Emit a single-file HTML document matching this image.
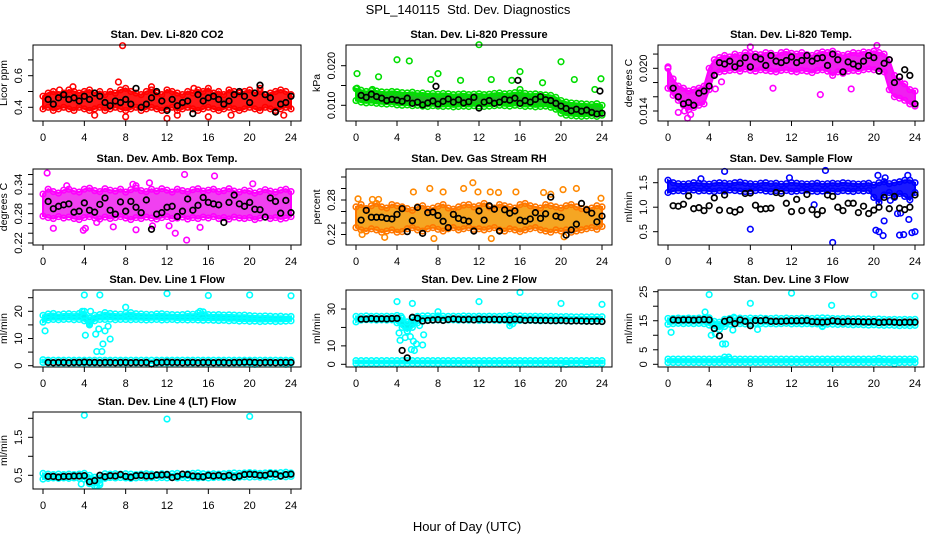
<!DOCTYPE html>
<html><head><meta charset="utf-8"><style>
html,body{margin:0;padding:0;background:#fff;}
svg{display:block;font-family:"Liberation Sans",sans-serif;}
</style></head><body>
<svg id="chart" width="936" height="540" viewBox="0 0 936 540" xmlns="http://www.w3.org/2000/svg">
<text x="468" y="14" font-size="13" text-anchor="middle" style="white-space:pre">SPL_140115  Std. Dev. Diagnostics</text>
<text x="467" y="531" font-size="13" text-anchor="middle">Hour of Day (UTC)</text>
</svg>
<script>
// ---------- data (hour step 0.5 for bands, black starts at 0.5) ----------
const xTicks = [0,4,8,12,16,20,24];
// P1 CO2
const p1Hi = [0.47,0.49,0.50,0.48,0.49,0.51,0.50,0.49,0.50,0.51,0.49,0.50,0.48,0.50,0.49,0.51,0.52,0.50,0.49,0.48,0.50,0.51,0.49,0.48,0.51,0.50,0.49,0.48,0.50,0.49,0.51,0.50,0.52,0.49,0.50,0.48,0.51,0.50,0.49,0.50,0.51,0.49,0.50,0.48,0.49,0.50,0.51,0.50,0.48];
const p1Lo = [0.39,0.40,0.38,0.39,0.40,0.39,0.38,0.40,0.39,0.38,0.39,0.40,0.38,0.39,0.40,0.39,0.38,0.39,0.40,0.38,0.39,0.40,0.39,0.38,0.39,0.40,0.38,0.39,0.40,0.39,0.38,0.39,0.40,0.39,0.38,0.39,0.40,0.39,0.38,0.39,0.40,0.39,0.38,0.40,0.39,0.38,0.39,0.40,0.39];
const p1Black = [0.45,0.42,0.46,0.48,0.45,0.46,0.44,0.47,0.45,0.49,0.47,0.43,0.41,0.44,0.43,0.45,0.42,0.52,0.40,0.42,0.46,0.50,0.44,0.38,0.45,0.41,0.43,0.44,0.36,0.48,0.44,0.46,0.47,0.45,0.42,0.44,0.48,0.50,0.47,0.43,0.49,0.54,0.48,0.46,0.37,0.42,0.43,0.47];
const p1Out = [[7.7,0.79],[7.3,0.56],[2.9,0.53],[10.5,0.53],[18.2,0.35],[12,0.33],[16,0.34],[5,0.35],[14.6,0.52],[21,0.52],[1.6,0.51],[23.3,0.35],[8,0.34],[13,0.35]];
// P2 Pressure
const p2Hi = [0.0142,0.0138,0.0135,0.0137,0.0136,0.0134,0.0133,0.0135,0.0134,0.0132,0.0131,0.0133,0.0130,0.0131,0.0129,0.0130,0.0128,0.0130,0.0129,0.0127,0.0128,0.0129,0.0127,0.0128,0.0129,0.0127,0.0128,0.0130,0.0131,0.0129,0.0130,0.0132,0.0131,0.0130,0.0128,0.0129,0.0127,0.0126,0.0125,0.0120,0.0112,0.0108,0.0106,0.0105,0.0104,0.0103,0.0102,0.0104,0.0100];
const p2Lo = [0.0112,0.0108,0.0106,0.0107,0.0105,0.0104,0.0103,0.0104,0.0101,0.0100,0.0101,0.0099,0.0100,0.0098,0.0097,0.0099,0.0098,0.0097,0.0098,0.0096,0.0097,0.0098,0.0097,0.0099,0.0098,0.0097,0.0098,0.0099,0.0100,0.0099,0.0098,0.0100,0.0099,0.0097,0.0098,0.0096,0.0097,0.0098,0.0095,0.0090,0.0080,0.0075,0.0074,0.0073,0.0072,0.0073,0.0074,0.0072,0.0075];
const p2Black = [0.0125,0.0120,0.0128,0.0122,0.0118,0.0112,0.0115,0.0113,0.0110,0.0118,0.0105,0.0108,0.0101,0.0106,0.0111,0.0103,0.0110,0.0116,0.0108,0.0114,0.0106,0.0109,0.0120,0.0093,0.0108,0.0112,0.0105,0.0108,0.0115,0.0113,0.0118,0.0105,0.0112,0.0108,0.0115,0.0122,0.0114,0.0112,0.0105,0.0098,0.0092,0.0086,0.0090,0.0085,0.0088,0.0082,0.0078,0.0080];
const p2Out = [[0.1,0.0180],[4,0.0215],[5.2,0.0212],[2.2,0.0172],[7.3,0.0165],[8,0.0180],[10.2,0.0163],[12,0.0253],[13.2,0.0165],[15.2,0.0163],[16,0.0185],[18.2,0.0157],[20,0.0210],[21.3,0.0165],[23.9,0.0167],[23.3,0.0140],[16,0.0140],[0.1,0.0143],[1.6,0.0140]];
const p2BlackOut = [[7.8,0.0148],[15.8,0.0163],[23.8,0.0136]];
// P3 Li-820 Temp
const p3Hi = [0.0200,0.0185,0.0175,0.0172,0.0168,0.0170,0.0172,0.0175,0.0200,0.0212,0.0215,0.0218,0.0216,0.0220,0.0218,0.0222,0.0221,0.0220,0.0219,0.0222,0.0221,0.0218,0.0222,0.0223,0.0221,0.0220,0.0222,0.0219,0.0218,0.0221,0.0223,0.0222,0.0224,0.0220,0.0218,0.0220,0.0222,0.0221,0.0223,0.0222,0.0224,0.0222,0.0220,0.0212,0.0190,0.0182,0.0178,0.0170,0.0168];
const p3Lo = [0.0172,0.0162,0.0155,0.0148,0.0142,0.0145,0.0148,0.0150,0.0170,0.0192,0.0195,0.0196,0.0197,0.0198,0.0196,0.0199,0.0197,0.0196,0.0198,0.0197,0.0196,0.0195,0.0197,0.0198,0.0196,0.0195,0.0197,0.0196,0.0194,0.0197,0.0198,0.0196,0.0190,0.0195,0.0193,0.0196,0.0197,0.0196,0.0198,0.0199,0.0198,0.0196,0.0195,0.0170,0.0160,0.0158,0.0155,0.0150,0.0147];
const p3Black = [0.0172,0.0160,0.0150,0.0152,0.0148,0.0165,0.0168,0.0175,0.0190,0.0208,0.0206,0.0210,0.0202,0.0207,0.0215,0.0202,0.0216,0.0213,0.0204,0.0218,0.0210,0.0208,0.0211,0.0216,0.0208,0.0211,0.0218,0.0210,0.0214,0.0215,0.0204,0.0220,0.0212,0.0195,0.0209,0.0206,0.0203,0.0210,0.0218,0.0215,0.0196,0.0207,0.0212,0.0180,0.0188,0.0198,0.0190,0.0150];
const p3Out = [[0,0.0202],[1.6,0.0140],[1.9,0.0130],[2.2,0.0135],[4.6,0.0171],[5.2,0.0181],[8,0.0230],[14.8,0.0163],[10.2,0.0172],[17.8,0.0171],[20.3,0.0232],[23.5,0.0150],[1,0.0138]];
// P4 Amb Box Temp
const p4Hi = [0.320,0.330,0.325,0.322,0.328,0.330,0.326,0.324,0.330,0.332,0.327,0.325,0.331,0.328,0.326,0.330,0.324,0.329,0.332,0.327,0.325,0.330,0.326,0.331,0.328,0.324,0.330,0.327,0.325,0.329,0.331,0.326,0.328,0.330,0.325,0.327,0.331,0.326,0.324,0.328,0.326,0.322,0.325,0.329,0.326,0.324,0.328,0.330,0.325];
const p4Lo = [0.275,0.272,0.270,0.274,0.271,0.273,0.270,0.268,0.272,0.274,0.271,0.269,0.273,0.270,0.272,0.274,0.271,0.268,0.272,0.270,0.273,0.271,0.269,0.272,0.274,0.270,0.271,0.273,0.269,0.272,0.270,0.273,0.271,0.274,0.270,0.272,0.269,0.273,0.271,0.270,0.272,0.268,0.271,0.273,0.270,0.272,0.269,0.271,0.274];
const p4Black = [0.305,0.290,0.295,0.298,0.300,0.283,0.285,0.302,0.287,0.283,0.299,0.312,0.287,0.279,0.304,0.285,0.305,0.293,0.282,0.308,0.248,0.279,0.282,0.293,0.295,0.274,0.285,0.310,0.287,0.297,0.313,0.303,0.300,0.298,0.262,0.303,0.318,0.300,0.295,0.303,0.289,0.288,0.273,0.312,0.305,0.281,0.307,0.282];
const p4Out = [[0.4,0.363],[1,0.250],[3.9,0.246],[4.1,0.250],[5.2,0.262],[6.8,0.253],[9,0.247],[10.6,0.255],[12.2,0.255],[12.8,0.240],[13.7,0.360],[13.9,0.226],[15.2,0.252],[16.6,0.357],[2.3,0.337],[9,0.337],[10.3,0.343],[20.3,0.341],[8.7,0.340]];
// P5 Gas Stream RH
const p5Hi = [0.268,0.272,0.265,0.270,0.274,0.268,0.266,0.272,0.270,0.268,0.265,0.262,0.268,0.270,0.264,0.266,0.269,0.272,0.266,0.264,0.268,0.271,0.272,0.268,0.270,0.274,0.268,0.266,0.272,0.270,0.268,0.266,0.272,0.274,0.270,0.268,0.266,0.272,0.270,0.268,0.266,0.270,0.272,0.268,0.265,0.264,0.266,0.270,0.268];
const p5Lo = [0.232,0.228,0.226,0.230,0.228,0.224,0.226,0.228,0.224,0.225,0.230,0.232,0.228,0.226,0.230,0.232,0.229,0.226,0.230,0.232,0.228,0.230,0.232,0.229,0.230,0.228,0.230,0.232,0.228,0.226,0.230,0.228,0.225,0.228,0.230,0.232,0.228,0.226,0.224,0.228,0.226,0.228,0.224,0.226,0.228,0.230,0.232,0.229,0.234];
const p5Black = [0.245,0.262,0.250,0.250,0.250,0.248,0.247,0.255,0.265,0.225,0.244,0.267,0.222,0.258,0.259,0.253,0.243,0.232,0.255,0.248,0.245,0.243,0.226,0.261,0.245,0.270,0.264,0.226,0.263,0.257,0.261,0.245,0.243,0.247,0.258,0.248,0.256,0.285,0.252,0.250,0.219,0.228,0.238,0.274,0.263,0.257,0.242,0.252];
const p5Out = [[0.2,0.282],[0.6,0.220],[1.6,0.281],[2.2,0.281],[2.8,0.215],[5.6,0.294],[7.2,0.300],[7.6,0.213],[8.5,0.294],[10.5,0.300],[11.4,0.310],[11.9,0.294],[13.1,0.294],[13.2,0.213],[13.9,0.293],[15.6,0.294],[18.3,0.293],[19,0.290],[21.5,0.300],[20.2,0.298],[23.9,0.283],[20.3,0.216]];
// P6 Sample Flow
const p6Hi = [1.55,1.50,1.48,1.47,1.48,1.50,1.49,1.48,1.47,1.49,1.50,1.49,1.48,1.50,1.51,1.49,1.48,1.47,1.49,1.50,1.48,1.49,1.47,1.48,1.50,1.49,1.48,1.47,1.48,1.49,1.47,1.48,1.49,1.48,1.50,1.49,1.48,1.47,1.48,1.49,1.45,1.50,1.52,1.48,1.50,1.52,1.55,1.55,1.50];
const p6Lo = [1.30,1.33,1.34,1.33,1.34,1.35,1.33,1.34,1.33,1.32,1.34,1.33,1.35,1.34,1.33,1.32,1.33,1.34,1.35,1.33,1.32,1.34,1.33,1.34,1.32,1.33,1.34,1.35,1.33,1.32,1.33,1.34,1.33,1.32,1.34,1.33,1.32,1.34,1.33,1.34,1.20,1.10,1.25,1.30,1.20,1.28,1.22,1.15,1.30];
const p6Black = [1.03,1.02,1.06,1.23,0.97,0.99,0.93,1.03,1.19,0.94,1.25,0.93,0.90,0.95,1.28,1.29,1.04,0.96,0.97,0.98,1.30,1.28,1.08,0.91,1.16,0.93,1.26,0.95,0.85,0.93,1.25,1.22,1.00,0.93,1.08,1.08,0.89,1.02,0.87,0.94,1.00,1.20,0.97,1.22,0.98,0.95,1.00,1.25];
const p6Out = [[5.5,1.73],[15.3,1.75],[8,0.55],[16,0.28],[20.2,0.53],[20.5,0.50],[20.9,0.42],[21,0.72],[22.5,0.43],[22.9,0.44],[23.4,0.75],[23.7,0.48],[24,0.50],[20.4,1.65],[21.1,1.60],[22.6,0.88],[21.6,1.14],[14.2,1.05],[22.3,0.87],[23.3,1.65],[3.2,1.58],[11.8,1.60]];
// P7 Line 1
const p7Hi = [18.5,19.0,19.2,18.8,19.0,19.1,18.9,19.2,20.0,17.5,18.5,18.8,19.5,19.2,19.0,18.9,19.3,19.5,19.1,19.0,18.9,18.8,19.0,19.1,18.9,18.8,18.7,18.8,19.0,18.9,19.4,19.8,18.8,18.7,18.8,18.6,18.7,18.6,18.5,18.6,18.4,18.3,18.2,18.3,18.2,18.1,18.2,18.0,18.1];
const p7Lo = [16.0,16.8,17.0,16.9,17.0,17.1,16.9,17.0,16.5,15.0,16.5,17.0,17.0,17.1,16.9,17.0,17.0,16.9,17.0,16.9,16.8,16.9,17.0,16.8,16.9,17.0,16.8,16.9,16.8,16.9,16.8,16.7,16.8,16.7,16.6,16.7,16.5,16.6,16.4,16.5,16.3,16.4,16.2,16.3,16.4,16.2,16.3,16.4,16.5];
const p7LowHi = [2.2,2.0,2.0,2.0,2.0,2.0,2.0,2.0,2.0,2.0,2.0,2.0,2.0,2.0,2.0,2.0,2.0,2.0,2.0,2.0,2.0,2.0,2.0,2.0,2.0,2.0,2.0,2.0,2.0,2.0,2.0,2.0,2.0,2.0,2.0,2.0,2.0,2.0,2.0,2.0,2.0,2.0,2.0,2.0,2.0,2.0,2.0,2.0,2.0];
const p7LowLo = [1.2,1.0,1.0,1.0,1.0,1.0,1.0,1.0,1.0,1.0,1.0,1.0,1.0,1.0,1.0,1.0,1.0,1.0,1.0,1.0,1.0,1.0,1.0,1.0,1.0,1.0,1.0,1.0,1.0,1.0,1.0,1.0,1.0,1.0,1.0,1.0,1.0,1.0,1.0,1.0,1.0,0.5,1.0,1.0,1.0,1.0,1.0,0.5,1.0];
const p7Black = [1.2,1.1,1.2,1.2,1.1,1.2,1.2,1.3,1.2,1.2,1.1,1.2,1.2,1.1,1.2,1.2,1.1,1.2,1.1,1.2,0.6,1.2,1.2,1.3,1.2,1.2,1.1,1.2,1.2,1.1,1.2,1.2,1.1,1.2,1.2,1.1,1.2,1.2,1.3,1.3,1.2,1.1,1.2,1.2,1.1,1.2,1.2,1.2];
const p7Out = [[0.2,12.8],[4.1,11.2],[4.5,15.5],[5.1,11.6],[5.2,5.2],[5.4,13.5],[5.7,5.2],[5.8,8.0],[6,12.8],[6.3,14.5],[6.5,9.8],[4,26],[5.5,26],[8,21.5],[12,26.5],[16,25.8],[20,26],[24,25.7],[4.6,20],[3.8,20],[15.2,20]];
// P8 Line 2
const p8Hi = [26.0,26.0,26.2,26.0,26.1,26.0,26.1,26.0,26.5,25.0,23.0,25.0,26.0,26.2,26.3,26.0,26.2,26.1,26.0,26.1,26.0,26.2,26.1,26.0,26.1,26.0,26.1,26.0,26.0,26.1,26.5,26.0,26.2,26.1,26.0,26.1,26.0,25.9,26.0,25.9,25.8,25.9,25.8,25.7,25.8,25.7,25.8,25.7,25.8];
const p8Lo = [23.0,24.0,24.2,24.1,24.0,24.1,24.0,24.1,22.5,20.0,18.0,20.0,22.5,23.5,23.8,23.9,24.0,23.9,24.0,24.1,23.9,24.0,23.9,24.0,23.8,23.9,24.0,23.9,23.8,23.9,21.0,23.5,23.8,23.7,23.8,23.7,23.6,23.7,23.6,23.5,23.6,23.5,23.4,23.5,23.4,23.3,23.4,23.3,23.2];
const p8LowHi = [2.0,2.0,2.0,2.0,2.0,2.0,2.0,2.0,2.0,2.0,2.0,2.0,2.0,2.0,2.0,2.0,2.0,2.0,2.0,2.0,2.0,2.0,2.0,2.0,2.0,2.0,2.0,2.0,2.0,2.0,2.0,2.0,2.0,2.0,2.0,2.0,2.0,2.0,2.0,2.0,2.0,2.0,2.0,2.0,2.0,2.0,2.0,2.0,2.0];
const p8LowLo = [0.5,0.5,0.5,0.5,0.5,0.5,0.5,0.5,0.5,0.5,0.5,0.5,0.5,0.5,0.5,0.5,0.5,0.5,0.5,0.5,0.5,0.5,0.5,0.5,0.5,0.5,0.5,0.5,0.5,0.5,0.5,0.5,0.5,0.5,0.5,0.5,0.5,0.5,0.5,0.5,0.5,0.0,0.5,0.5,0.5,0.0,0.5,0.5,0.5];
const p8Black = [24.5,24.5,24.8,24.6,24.7,24.6,24.8,24.9,7.5,3.5,25.5,25.0,23.5,23.8,24.0,24.2,23.8,24.3,24.6,24.4,24.2,24.4,24.1,24.5,24.3,24.3,24.4,24.3,24.3,24.1,24.5,24.2,23.8,24.0,23.9,23.8,23.8,23.7,23.7,23.8,23.6,23.5,23.6,23.5,23.4,23.3,23.4,23.2];
const p8Out = [[4,34],[5.5,33],[8,28.5],[12,34],[16,39],[20,33],[24,32.5],[4.4,26],[4.2,17],[4.3,13],[4.8,14.5],[5,18],[5.3,15],[5.6,12.5],[5.7,7.5],[5.9,11],[6.2,21],[6.5,10.5],[6.6,16],[5.4,8],[15.3,22]];
// P9 Line 3
const p9Hi = [15.8,15.8,15.9,15.8,15.9,15.8,15.9,15.8,16.0,14.8,14.5,15.5,15.8,15.8,15.9,15.8,15.9,15.8,15.9,15.8,15.8,15.9,15.8,15.9,15.8,15.8,15.9,15.8,15.8,15.9,16.0,15.9,15.8,15.7,15.8,15.7,15.6,15.7,15.6,15.6,15.5,15.6,15.5,15.4,15.5,15.4,15.5,15.4,15.5];
const p9Lo = [13.8,14.0,14.1,14.0,14.1,14.0,14.1,14.0,13.5,12.5,12.0,13.0,13.8,13.9,14.0,13.9,14.0,14.1,14.0,13.9,14.0,13.9,14.0,14.1,13.9,14.0,13.9,14.0,13.9,13.9,13.0,13.8,13.8,13.7,13.8,13.7,13.6,13.7,13.6,13.5,13.6,13.5,13.4,13.5,13.4,13.3,13.4,13.3,13.4];
const p9LowHi = [1.8,1.8,1.8,1.8,1.8,1.8,1.8,1.8,1.8,1.8,1.8,2.5,1.8,1.8,1.8,1.8,1.8,1.8,1.8,1.8,1.8,1.8,1.8,1.8,1.8,1.8,1.8,1.8,1.8,1.8,1.8,1.8,1.8,1.8,1.8,1.8,1.8,1.8,1.8,1.8,1.8,2.0,1.8,1.8,1.8,1.8,1.8,1.8,1.8];
const p9LowLo = [0.6,0.6,0.6,0.6,0.6,0.6,0.6,0.6,0.6,0.6,0.6,0.6,0.6,0.6,0.6,0.6,0.6,0.6,0.6,0.6,0.6,0.6,0.6,0.6,0.6,0.6,0.6,0.6,0.6,0.6,0.6,0.6,0.6,0.6,0.6,0.6,0.6,0.6,0.6,0.6,0.6,0.6,0.6,0.6,0.2,0.6,0.6,0.6,0.6];
const p9Black = [15.3,15.2,15.3,15.3,15.2,15.3,15.4,15.3,12.3,9.8,14.8,15.3,14.0,15.3,14.8,13.3,15.1,15.0,15.2,14.8,14.8,14.8,14.9,15.0,15.0,15.0,15.1,14.7,14.6,14.5,14.6,15.0,14.8,14.6,14.8,14.7,14.7,14.6,14.6,14.7,14.4,14.5,14.6,14.5,14.4,14.5,14.5,14.5];
const p9Out = [[0.3,11],[3.6,18],[4,24],[4.2,10],[4.6,10.5],[5.3,7],[5.6,7],[5.9,2.5],[6.3,11.8],[6.4,16.2],[8,21],[8.7,12],[12,24.5],[15.9,20.3],[20,24],[24,23.5],[15,13.2]];
// P10 Line 4 (LT)
const p10Hi = [0.55,0.53,0.52,0.53,0.52,0.53,0.52,0.53,0.55,0.50,0.45,0.50,0.54,0.53,0.54,0.53,0.54,0.53,0.52,0.53,0.54,0.53,0.52,0.54,0.53,0.54,0.55,0.53,0.54,0.55,0.56,0.54,0.53,0.54,0.53,0.54,0.55,0.56,0.55,0.56,0.57,0.56,0.55,0.56,0.57,0.56,0.57,0.58,0.56];
const p10Lo = [0.40,0.42,0.43,0.42,0.43,0.42,0.43,0.42,0.40,0.28,0.22,0.30,0.42,0.44,0.43,0.44,0.43,0.42,0.43,0.44,0.43,0.44,0.43,0.44,0.43,0.44,0.43,0.44,0.43,0.44,0.43,0.44,0.43,0.44,0.45,0.44,0.45,0.44,0.45,0.46,0.45,0.46,0.45,0.46,0.45,0.46,0.47,0.46,0.47];
const p10Black = [0.47,0.47,0.45,0.47,0.47,0.48,0.48,0.49,0.33,0.36,0.50,0.46,0.49,0.48,0.52,0.47,0.45,0.49,0.50,0.48,0.48,0.51,0.51,0.52,0.44,0.47,0.53,0.52,0.48,0.47,0.46,0.50,0.48,0.50,0.47,0.50,0.45,0.48,0.52,0.53,0.52,0.50,0.50,0.54,0.53,0.48,0.52,0.53];
const p10Out = [[4,2.08],[12,1.98],[20,2.05],[3.7,0.27],[5.2,0.22],[5.5,0.25]];

// ---------- layout ----------
const cols = [{L:33,R:301,x0:43,x24:291},{L:346,R:612,x0:356,x24:602},{L:658,R:924,x0:668,x24:915}];
const rows = [{T:45,B:121},{T:169,B:245},{T:290,B:367},{T:412,B:489}];
const svg = document.getElementById('chart');
const NS = 'http://www.w3.org/2000/svg';
function mk(tag, attrs, parent){
  const e = document.createElementNS(NS, tag);
  for (const k in attrs) e.setAttribute(k, attrs[k]);
  (parent||svg).appendChild(e);
  return e;
}
function slug(s){return s.toLowerCase().replace(/[^a-z0-9]+/g,'-').replace(/^-|-$/g,'');}

function drawPanel(p){
  const c = cols[p.col], r = rows[p.row];
  const sx = h => c.x0 + (c.x24 - c.x0) * h / 24;
  const sy = v => p.p1 + (v - p.v1) * (p.p2 - p.p1) / (p.v2 - p.v1);
  const g = mk('g', {});
  
  
  const clipId = 'clip' + p.col + p.row;
  const cp = mk('clipPath', {id: clipId}, g);
  mk('rect', {x:c.L, y:r.T-4, width:c.R-c.L, height:r.B-r.T+8}, cp);
  const marks = mk('g', {'clip-path':'url(#'+clipId+')'}, g);
  (p.bands||[]).forEach(b => {
    let pts = [];
    b.hi.forEach((v,i) => pts.push(sx(i*0.5)+','+sy(v)));
    for (let i=b.lo.length-1;i>=0;i--) pts.push(sx(i*0.5)+','+sy(b.lo[i]));
    const poly = mk('polygon', {points: pts.join(' '), fill: b.fill, stroke: b.color, 'stroke-width': 2}, marks);
    
    
    [b.hi, b.lo].forEach(arr => arr.forEach((v,i) => {
      const ci = mk('circle', {cx: sx(i*0.5), cy: sy(v), r: 2.8, fill: 'none', stroke: b.color, 'stroke-width': 1.6}, marks);
      
      
    }));
  });
  (p.out||[]).forEach(o => {
    const ci = mk('circle', {cx: sx(o[0]), cy: sy(o[1]), r: 2.8, fill: 'none', stroke: p.color, 'stroke-width': 1.6}, marks);
    
    
  });
  (p.black||[]).forEach((v,i) => {
    const ci = mk('circle', {cx: sx(0.5 + i*0.5), cy: sy(v), r: 2.8, fill: 'none', stroke: '#000', 'stroke-width': 1.7}, marks);
    
    
  });
  (p.blackOut||[]).forEach(o => {
    const ci = mk('circle', {cx: sx(o[0]), cy: sy(o[1]), r: 2.8, fill: 'none', stroke: '#000', 'stroke-width': 1.7}, marks);
    
    
  });
  const box = mk('rect', {x:c.L, y:r.T, width:c.R-c.L, height:r.B-r.T, fill:'none', stroke:'#000', 'stroke-width':1}, g);
  
  
  const xa = mk('g', {}, g);
  
  
  mk('line', {x1:sx(0), x2:sx(24), y1:r.B, y2:r.B, stroke:'#000'}, xa);
  xTicks.forEach(t => {
    mk('line', {x1:sx(t), x2:sx(t), y1:r.B, y2:r.B+5, stroke:'#000'}, xa);
    const tx = mk('text', {x:sx(t), y:r.B+20, 'font-size':11, 'text-anchor':'middle'}, xa);
    tx.textContent = t;
  });
  const ya = mk('g', {}, g);
  
  
  mk('line', {x1:c.L, x2:c.L, y1:sy(p.yticks[0]), y2:sy(p.yticks[p.yticks.length-1]), stroke:'#000'}, ya);
  p.yticks.forEach(t => mk('line', {x1:c.L-5, x2:c.L, y1:sy(t), y2:sy(t), stroke:'#000'}, ya));
  p.ylabels.forEach(t => {
    const x = c.L-11, y = sy(t);
    const tx = mk('text', {x:x, y:y, 'font-size':11, 'text-anchor':'middle', transform:'rotate(-90 '+x+' '+y+')'}, ya);
    tx.textContent = t;
  });
  const yt = mk('text', {x:c.L-26, y:(r.T+r.B)/2, 'font-size':10.5, 'text-anchor':'middle', transform:'rotate(-90 '+(c.L-26)+' '+((r.T+r.B)/2)+')'}, g);
  
  
  yt.textContent = p.ylab;
  const tt = mk('text', {x:(c.L+c.R)/2, y:r.T-7, 'font-size':11, 'font-weight':'bold', 'text-anchor':'middle'}, g);
  
  
  tt.textContent = p.title;
}

const panels = [
 {col:0,row:0,title:'Stan. Dev. Li-820 CO2',ylab:'Licor ppm',v1:0.4,p1:107.3,v2:0.6,p2:75.7,yticks:[0.4,0.5,0.6,0.7],ylabels:['0.4','0.6'],color:'#ff0000',
  bands:[{name:'co2',hi:p1Hi,lo:p1Lo,color:'#ff0000',fill:'#ff1a1a'}],out:p1Out,black:p1Black},
 {col:1,row:0,title:'Stan. Dev. Li-820 Pressure',ylab:'kPa',v1:0.010,p1:105.3,v2:0.020,p2:65.7,yticks:[0.010,0.015,0.020],ylabels:['0.010','0.020'],color:'#00dd00',
  bands:[{name:'pressure',hi:p2Hi,lo:p2Lo,color:'#00e000',fill:'#22bb22'}],out:p2Out,black:p2Black,blackOut:p2BlackOut},
 {col:2,row:0,title:'Stan. Dev. Li-820 Temp.',ylab:'degrees C',v1:0.014,p1:111,v2:0.020,p2:68.3,yticks:[0.014,0.016,0.018,0.020,0.022],ylabels:['0.014','0.020'],color:'#ff00ff',
  bands:[{name:'li820-temp',hi:p3Hi,lo:p3Lo,color:'#ff00ff',fill:'#f020f0'}],out:p3Out,black:p3Black},
 {col:0,row:1,title:'Stan. Dev. Amb. Box Temp.',ylab:'degrees C',v1:0.34,p1:184.3,v2:0.22,p2:243,yticks:[0.22,0.24,0.26,0.28,0.30,0.32,0.34,0.36],ylabels:['0.22','0.28','0.34'],color:'#ff00ff',
  bands:[{name:'box-temp',hi:p4Hi,lo:p4Lo,color:'#ff00ff',fill:'#f040f0'}],out:p4Out,black:p4Black},
 {col:1,row:1,title:'Stan. Dev. Gas Stream RH',ylab:'percent',v1:0.28,p1:200,v2:0.22,p2:234.5,yticks:[0.22,0.24,0.26,0.28,0.30,0.32],ylabels:['0.22','0.28'],color:'#ff8800',
  bands:[{name:'rh',hi:p5Hi,lo:p5Lo,color:'#ff7700',fill:'#f5a623'}],out:p5Out,black:p5Black},
 {col:2,row:1,title:'Stan. Dev. Sample Flow',ylab:'ml/min',v1:1.5,p1:182.7,v2:0.5,p2:231.7,yticks:[0.5,1.0,1.5],ylabels:['0.5','1.0','1.5'],color:'#0000ff',
  bands:[{name:'sample-flow',hi:p6Hi,lo:p6Lo,color:'#0000ff',fill:'#1a1aff'}],out:p6Out,black:p6Black},
 {col:0,row:2,title:'Stan. Dev. Line 1 Flow',ylab:'ml/min',v1:0,p1:365.7,v2:20,p2:311.3,yticks:[0,5,10,15,20,25],ylabels:['0','10','20'],color:'#00ffff',
  bands:[{name:'line1-high',hi:p7Hi,lo:p7Lo,color:'#00ffff',fill:'#00f0f0'},{name:'line1-low',hi:p7LowHi,lo:p7LowLo,color:'#00ffff',fill:'#00f0f0'}],out:p7Out,black:p7Black},
 {col:1,row:2,title:'Stan. Dev. Line 2 Flow',ylab:'ml/min',v1:0,p1:364.3,v2:30,p2:309,yticks:[0,10,20,30],ylabels:['0','10','30'],color:'#00ffff',
  bands:[{name:'line2-high',hi:p8Hi,lo:p8Lo,color:'#00ffff',fill:'#00f0f0'},{name:'line2-low',hi:p8LowHi,lo:p8LowLo,color:'#00ffff',fill:'#00f0f0'}],out:p8Out,black:p8Black},
 {col:2,row:2,title:'Stan. Dev. Line 3 Flow',ylab:'ml/min',v1:0,p1:364.3,v2:25,p2:291.7,yticks:[0,5,10,15,20,25],ylabels:['0','5','15','25'],color:'#00ffff',
  bands:[{name:'line3-high',hi:p9Hi,lo:p9Lo,color:'#00ffff',fill:'#00f0f0'},{name:'line3-low',hi:p9LowHi,lo:p9LowLo,color:'#00ffff',fill:'#00f0f0'}],out:p9Out,black:p9Black},
 {col:0,row:3,title:'Stan. Dev. Line 4 (LT) Flow',ylab:'ml/min',v1:0.5,p1:475.3,v2:1.5,p2:437.3,yticks:[0.5,1.0,1.5,2.0],ylabels:['0.5','1.5'],color:'#00ffff',
  bands:[{name:'line4',hi:p10Hi,lo:p10Lo,color:'#00ffff',fill:'#00f0f0'}],out:p10Out,black:p10Black}
];
panels.forEach(drawPanel);
</script>
</body></html>
